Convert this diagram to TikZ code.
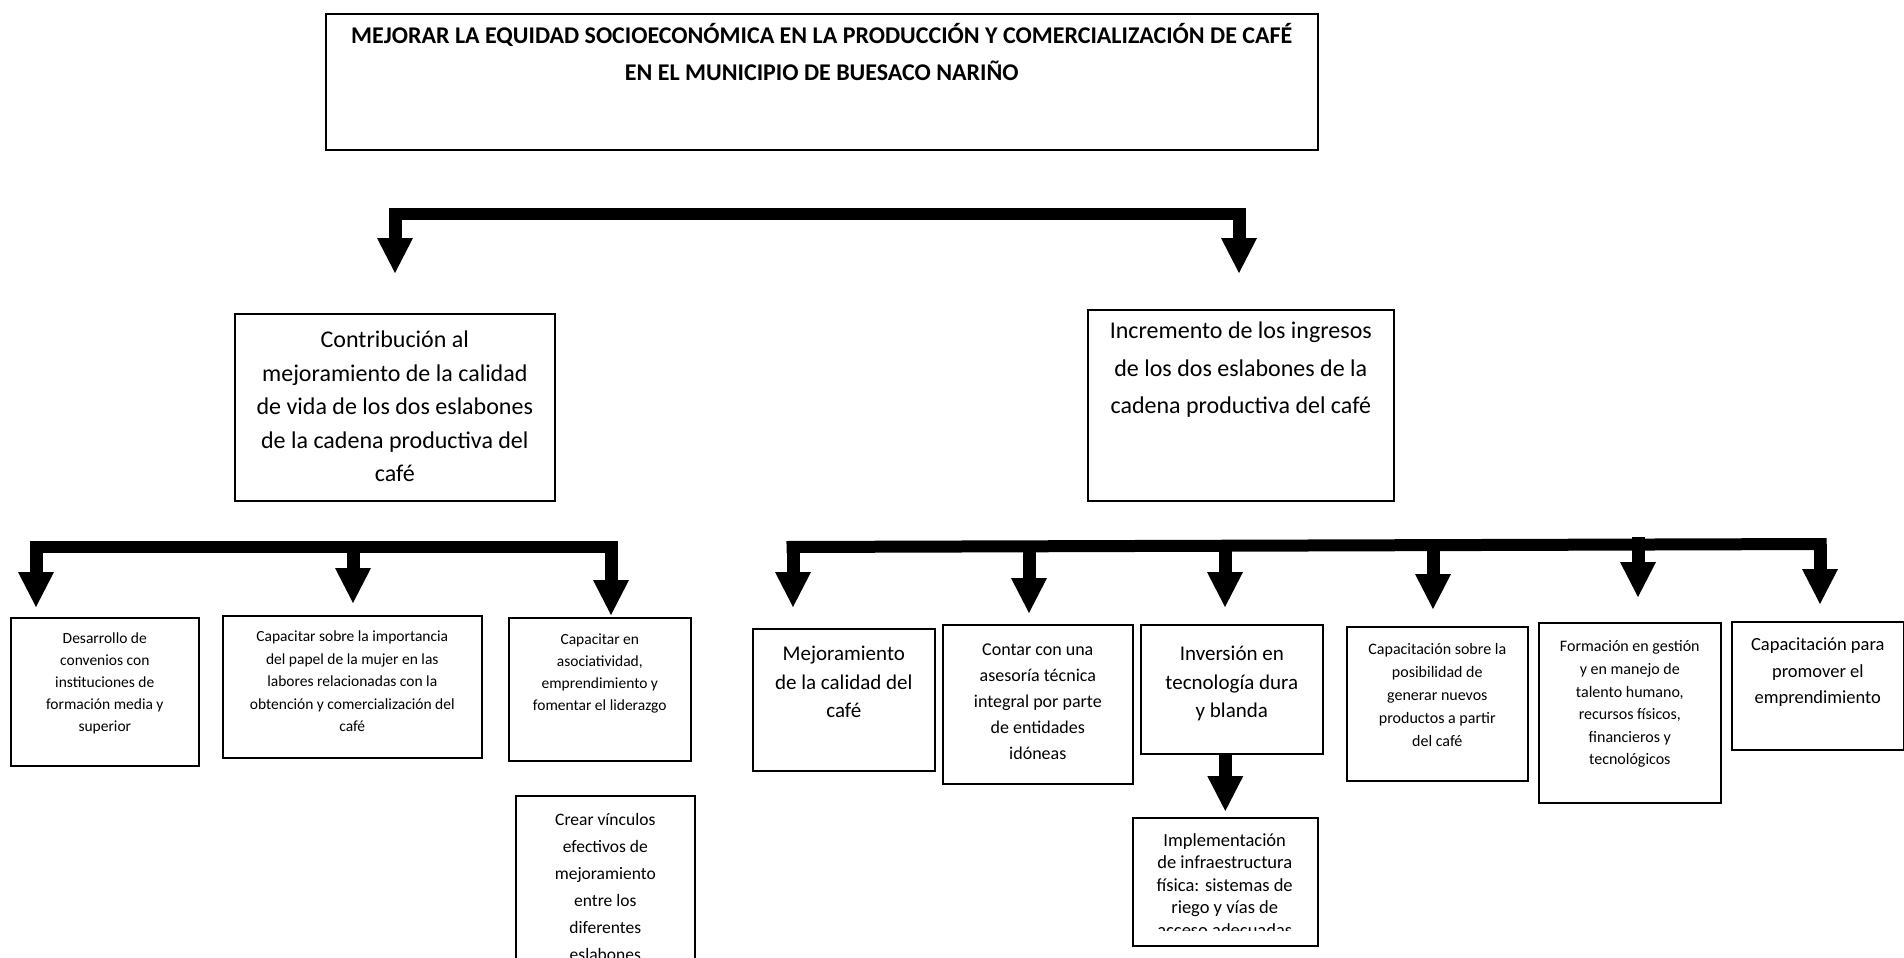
\documentclass[tikz,border=0pt]{standalone}
\usepackage{fontspec}
\setmainfont{Carlito}
\usetikzlibrary{arrows.meta}
\tikzset{
  boxst/.style={draw, line width=1.6pt, inner sep=0pt, anchor=north west},
  plaintext/.style={inner sep=0pt, anchor=north west},
  barst/.style={line width=12pt},
  dropst/.style={line width=13pt, -{Triangle[width=36pt,length=35pt,line width=0pt]}},
}
% name, x, y, width, height, font size, baselineskip, first-baseline offset, text
\newcommand\mkbox[9]{%
  \node[boxst] (#1) at (#2,#3) {\parbox[t][#5pt][t]{#4pt}{\centering\fontsize{#6pt}{#7pt}\selectfont\vspace*{\dimexpr #8pt - 0.7\baselineskip\relax}\strut #9\par}};}
\begin{document}
\begin{tikzpicture}[x=1pt,y=-1pt]
\useasboundingbox (0,0) rectangle (1904,958);
\fill[white] (0,0) rectangle (1904,958);

% top
\mkbox{top}{325}{13}{992}{136}{24}{37}{30}{\bfseries MEJORAR LA EQUIDAD SOCIOECONÓMICA EN LA PRODUCCIÓN Y COMERCIALIZACIÓN DE CAFÉ\\ EN EL MUNICIPIO DE BUESACO NARIÑO}

% level 2
\mkbox{lA}{234}{313}{320}{187}{24}{33.4}{34}{Contribución al\\ mejoramiento de la calidad\\ de vida de los dos eslabones\\ de la cadena productiva del\\ café}
\mkbox{lB}{1087}{309}{306}{191}{24}{37.5}{29}{Incremento de los ingresos\\ de los dos eslabones de la\\ cadena productiva del café}

% level 3 left
\mkbox{a1}{10}{617}{188}{148}{15.5}{22}{26}{Desarrollo de\\ convenios con\\ instituciones de\\ formación media y\\ superior}
\mkbox{a2}{222}{615}{259}{142}{15.5}{22.5}{26}{Capacitar sobre la importancia\\ del papel de la mujer en las\\ labores relacionadas con la\\ obtención y comercialización del\\ café}
\mkbox{a3}{508}{617}{182}{143}{15.5}{22}{27}{Capacitar en\\ asociatividad,\\ emprendimiento y\\ fomentar el liderazgo}
\mkbox{a4}{515}{795}{179}{200}{17.5}{27}{30}{Crear vínculos\\ efectivos de\\ mejoramiento\\ entre los\\ diferentes\\ eslabones}

% level 3 right
\mkbox{b1}{752}{628}{182}{142}{21}{28.5}{32}{Mejoramiento\\ de la calidad del\\ café}
\mkbox{b2}{942}{624}{190}{159}{18}{26}{31}{Contar con una\\ asesoría técnica\\ integral por parte\\ de entidades\\ idóneas}
\mkbox{b3}{1140}{624}{182}{129}{21}{28.5}{36}{Inversión en\\ tecnología dura\\ y blanda}
\mkbox{b4}{1346}{626}{181}{154}{16}{23}{28}{Capacitación sobre la\\ posibilidad de\\ generar nuevos\\ productos a partir\\ del café}
\mkbox{b5}{1538}{622}{182}{180}{16}{22.6}{29}{Formación en gestión\\ y en manejo de\\ talento humano,\\ recursos físicos,\\ financieros y\\ tecnológicos}
\mkbox{b6}{1731}{621}{172}{128}{18.5}{26.5}{29}{Capacitación para\\ promover el\\ emprendimiento}

% implementation box (text clipped inside)
\node[boxst, minimum width=185pt, minimum height=128pt] (impl) at (1132,817) {};
\begin{scope}
  \clip (impl.north west) rectangle ([yshift=16pt]impl.south east);
  \node[plaintext] (impltext) at (impl.north west) {\parbox[t][150pt][t]{185pt}{\centering\fontsize{18.5pt}{22.5pt}\selectfont\vspace*{\dimexpr 29pt - 0.7\baselineskip\relax}\strut Implementación\\ de infraestructura\\ física: sistemas de\\ riego y vías de\\ acceso adecuadas\par}};
\end{scope}

% top connector
\coordinate (c0l) at (388.5,214);
\coordinate (c0r) at (1245.5,214);
\draw[barst] (c0l) -- (c0r);
\coordinate (d0a) at (395,214); \coordinate (t0a) at (395,273);
\coordinate (d0b) at (1239,214); \coordinate (t0b) at (1239,273);
\draw[dropst] (d0a) -- (t0a);
\draw[dropst] (d0b) -- (t0b);

% left level-3 connector
\coordinate (c1l) at (29.5,547);
\coordinate (c1r) at (617.5,547);
\draw[barst] (c1l) -- (c1r);
\coordinate (d1a) at (36,547);  \coordinate (t1a) at (36,607);
\coordinate (d1b) at (353,547); \coordinate (t1b) at (353,603);
\coordinate (d1c) at (611,547); \coordinate (t1c) at (611,615);
\draw[dropst] (d1a) -- (t1a);
\draw[dropst] (d1b) -- (t1b);
\draw[dropst] (d1c) -- (t1c);

% right level-3 connector
\coordinate (c2l) at (786.5,547);
\coordinate (c2r) at (1826.5,544);
\draw[barst] (c2l) -- (c2r);
\coordinate (d2a) at (793,547);  \coordinate (t2a) at (793,607);
\coordinate (d2b) at (1029,546); \coordinate (t2b) at (1029,613);
\coordinate (d2c) at (1225,546); \coordinate (t2c) at (1225,607);
\coordinate (d2d) at (1433,545); \coordinate (t2d) at (1433,609);
\coordinate (d2e) at (1638,537); \coordinate (t2e) at (1638,597);
\coordinate (d2f) at (1820,544); \coordinate (t2f) at (1820,604);
\draw[dropst] (d2a) -- (t2a);
\draw[dropst] (d2b) -- (t2b);
\draw[dropst] (d2c) -- (t2c);
\draw[dropst] (d2d) -- (t2d);
\draw[dropst] (d2e) -- (t2e);
\draw[dropst] (d2f) -- (t2f);

% down arrow to implementation box
\draw[dropst] (b3.south -| impl.north) -- ([yshift=6pt]impl.north);
\end{tikzpicture}
\end{document}
